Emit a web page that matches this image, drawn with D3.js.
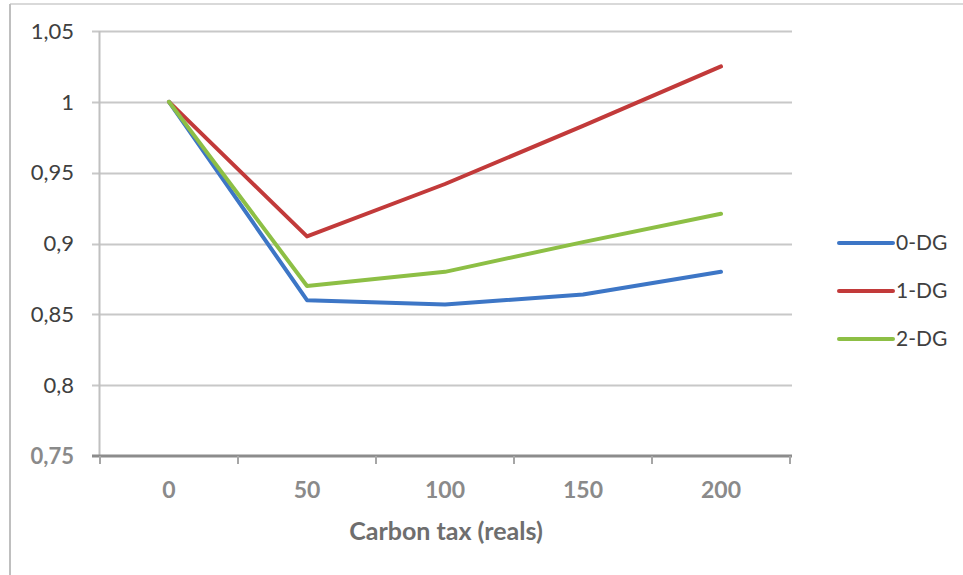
<!DOCTYPE html>
<html>
<head>
<meta charset="utf-8">
<script src="https://cdn.jsdelivr.net/npm/d3@7"></script>
<style>
  html, body { margin: 0; padding: 0; background: #fff; }
  svg { display: block; font-family: Lato, "Open Sans", sans-serif; }
</style>
</head>
<body>
<svg id="chart" width="963" height="575"></svg>
<script>
// Carbon tax levels (reals) on the category axis
const categories = ["0", "50", "100", "150", "200"];

// Relative index for each scenario
const series0DG = [1, 0.860, 0.857, 0.864, 0.880];
const series1DG = [1, 0.905, 0.942, 0.983, 1.025];
const series2DG = [1, 0.870, 0.880, 0.901, 0.921];

const seriesNames = ["0-DG", "1-DG", "2-DG"];
const seriesColors = ["#3d76c6", "#c23a3a", "#8dbf45"];

const yTicks = [0.75, 0.8, 0.85, 0.9, 0.95, 1, 1.05];
const xTitle = "Carbon tax (reals)";

const seriesList = [series0DG, series1DG, series2DG];

const svg = d3.select("#chart");

// Outer chart frame (top and left edges)
svg.append("line").attr("x1", 10).attr("x2", 963).attr("y1", 4).attr("y2", 4)
  .attr("stroke", "#d9d9d9").attr("stroke-width", 2);
svg.append("line").attr("x1", 10).attr("x2", 10).attr("y1", 4).attr("y2", 575)
  .attr("stroke", "#bfbfbf").attr("stroke-width", 2);

const plot = { left: 100, right: 790, top: 31, bottom: 456 };

const x = d3.scaleBand().domain(categories).range([plot.left, plot.right]);
const y = d3.scaleLinear().domain([0.75, 1.05]).range([plot.bottom, plot.top]);

const fmt = v => String(v).replace(".", ",");

// Horizontal gridlines
svg.append("g")
  .selectAll("line")
  .data(yTicks.filter(t => t > 0.75))
  .join("line")
  .attr("x1", plot.left - 8).attr("x2", plot.right + 2)
  .attr("y1", d => Math.round(y(d)) + 0.5).attr("y2", d => Math.round(y(d)) + 0.5)
  .attr("stroke", "#c8c8c8").attr("stroke-width", 2);

// Vertical axis line
svg.append("line")
  .attr("x1", plot.left - 0.5).attr("x2", plot.left - 0.5)
  .attr("y1", plot.top).attr("y2", plot.bottom)
  .attr("stroke", "#c0c0c0").attr("stroke-width", 2);

// Y tick labels
svg.append("g")
  .selectAll("text")
  .data(yTicks)
  .join("text")
  .attr("x", 74)
  .attr("y", d => y(d))
  .attr("dy", "0.35em")
  .attr("text-anchor", "end")
  .attr("font-size", 22)
  .attr("fill", d => d === 0.75 ? "#8a8a8a" : "#404040")
  .attr("font-weight", d => d === 0.75 ? "bold" : "normal")
  .text(fmt);

// Category axis line with tick marks between categories
const xAxisG = svg.append("g");
xAxisG.append("line")
  .attr("x1", plot.left - 8).attr("x2", plot.right + 2)
  .attr("y1", plot.bottom).attr("y2", plot.bottom)
  .attr("stroke", "#8c8c8c").attr("stroke-width", 3);
const boundaries = categories.map(c => x(c)).concat([plot.right]);
xAxisG.selectAll("line.tick")
  .data(boundaries)
  .join("line")
  .attr("class", "tick")
  .attr("x1", d => d).attr("x2", d => d)
  .attr("y1", plot.bottom).attr("y2", plot.bottom + 8)
  .attr("stroke", "#a6a6a6").attr("stroke-width", 2);

// Category labels
xAxisG.selectAll("text")
  .data(categories)
  .join("text")
  .attr("x", d => x(d) + x.bandwidth() / 2)
  .attr("y", 498)
  .attr("text-anchor", "middle")
  .attr("font-size", 23)
  .attr("font-weight", "bold")
  .attr("fill", "#8a8a8a")
  .text(d => d);

// Axis title
svg.append("text")
  .attr("x", 446).attr("y", 540)
  .attr("text-anchor", "middle")
  .attr("font-size", 25)
  .attr("font-weight", "bold")
  .attr("fill", "#6e6e6e")
  .text(xTitle);

// Series lines
const line = d3.line()
  .x((d, i) => x(categories[i]) + x.bandwidth() / 2)
  .y(d => y(d));

svg.append("g")
  .selectAll("path")
  .data(seriesList)
  .join("path")
  .attr("d", line)
  .attr("fill", "none")
  .attr("stroke", (d, i) => seriesColors[i])
  .attr("stroke-width", 4)
  .attr("stroke-linejoin", "round")
  .attr("stroke-linecap", "round");

// Legend
const legend = svg.append("g")
  .selectAll("g")
  .data(seriesNames)
  .join("g")
  .attr("transform", (d, i) => `translate(0, ${243 + i * 48})`);
legend.append("line")
  .attr("x1", 839).attr("x2", 893)
  .attr("stroke", (d, i) => seriesColors[i])
  .attr("stroke-width", 4)
  .attr("stroke-linecap", "round");
legend.append("text")
  .attr("x", 896).attr("dy", "0.35em")
  .attr("font-size", 21)
  .attr("fill", "#404040")
  .text(d => d);
</script>
</body>
</html>
